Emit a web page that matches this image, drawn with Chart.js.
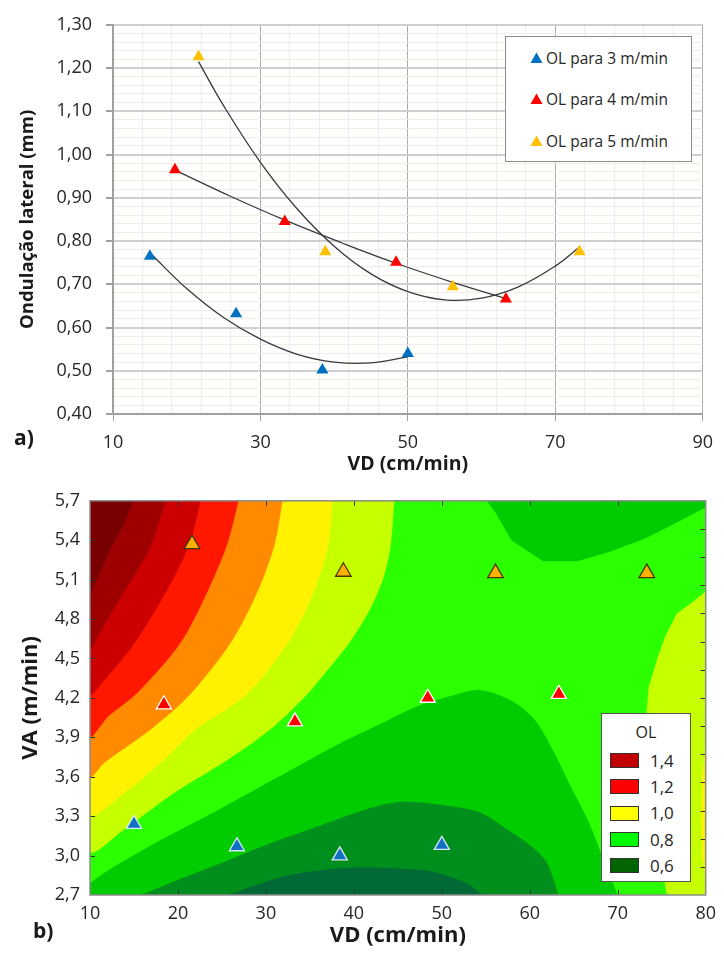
<!DOCTYPE html>
<html><head><meta charset="utf-8">
<script src="https://cdn.jsdelivr.net/npm/chart.js@4.4.1/dist/chart.umd.min.js"></script>
<style>
html,body{margin:0;padding:0;background:#fff;}
body{width:724px;height:959px;position:relative;overflow:hidden;font-family:'Open Sans','DejaVu Sans',sans-serif;color:#262626;}
.wrap{position:absolute;left:0;width:724px;}
#w1{top:0;height:480px;}
#w2{top:480px;height:479px;}
.tag{position:absolute;font-weight:bold;font-size:21px;line-height:normal;color:#1a1a1a;}
#legA{position:absolute;left:505px;top:36px;width:185px;height:124px;border:1px solid #8c8c8c;background:#fff;}
#legA svg{position:absolute;left:24px;}
#legA span{position:absolute;left:40px;font-size:15.5px;line-height:22px;white-space:nowrap;}
#legB{position:absolute;left:601px;top:713px;width:88px;height:167px;border:1px solid #555;background:#fff;}
#legB .t{position:absolute;left:0;width:88px;text-align:center;top:7px;font-size:16px;line-height:22px;}
#legB .sw{position:absolute;left:8px;width:29px;height:15px;box-sizing:border-box;border:1px solid #333;}
#legB span{position:absolute;left:48px;font-size:17px;line-height:22px;}
</style>
</head>
<body>
<div class="wrap" id="w1"><canvas id="c1" width="724" height="480"></canvas></div>
<div class="wrap" id="w2"><canvas id="c2" width="724" height="479"></canvas></div>
<div class="tag" style="left:14px;top:423px;">a)</div>
<div class="tag" style="left:33px;top:916px;">b)</div>
<div id="legA"></div>
<div id="legB"></div>
<script>
// ---------------- DATA ----------------
const SERIES_LABELS = ['OL para 3 m/min', 'OL para 4 m/min', 'OL para 5 m/min'];
// VD (cm/min) of the experiments, per VA level
const VD_3 = [15.0, 26.7, 38.4, 50.0];
const VD_4 = [18.4, 33.3, 48.4, 63.3];
const VD_5 = [21.6, 38.8, 56.1, 73.3];
// OL (mm), chart a)
const OL_3 = [0.765, 0.632, 0.502, 0.540];
const OL_4 = [0.965, 0.845, 0.751, 0.666];
const OL_5 = [1.226, 0.775, 0.694, 0.775];
// VA (m/min), chart b)
const VA_3 = [3.24, 3.07, 3.00, 3.08];
const VA_4 = [4.15, 4.02, 4.20, 4.23];
const VA_5 = [5.37, 5.16, 5.15, 5.15];
// trend curves of chart a)
const TREND_3_VD = [15, 20, 25, 30, 35, 40, 45, 50];
const TREND_3_OL = [0.773, 0.690, 0.623, 0.573, 0.538, 0.520, 0.518, 0.532];
const TREND_4_VD = [18.4, 26, 33.5, 41, 48.5, 56, 63.3];
const TREND_4_OL = [0.964, 0.903, 0.847, 0.796, 0.748, 0.705, 0.667];
const TREND_5_VD = [21.6, 25, 30, 35, 40, 45, 50, 55, 60, 65, 70, 73.3];
const TREND_5_OL = [1.215, 1.113, 0.982, 0.874, 0.788, 0.724, 0.683, 0.664, 0.668, 0.694, 0.742, 0.786];
// axes
const A_VD_MIN = 10, A_VD_MAX = 90, A_VD_MAJOR = 20, A_VD_MINOR = 4;
const A_OL_MIN = 0.4, A_OL_MAX = 1.3, A_OL_MAJOR = 0.1, A_OL_MINOR = 0.02;
const B_VD_MIN = 10, B_VD_MAX = 80, B_VD_STEP = 10;
const B_VA_MIN = 2.7, B_VA_MAX = 5.7, B_VA_STEP = 0.3;
// contour regions of chart b): [VD, VA] outlines
const REGION_BASE   = [[10,2.7],[10,5.7],[80,5.7],[80,2.7]];
const REGION_GT_080 = [[44.6,5.7],[44.2,5.37],[43.4,5.12],[41.8,4.87],[39.5,4.62],[36.5,4.37],[34.6,4.22],[30.5,3.96],[25.2,3.71],[19.2,3.46],[13.9,3.20],[10,3.04],[10,5.7]];
const REGION_GT_090 = [[37.6,5.7],[37.1,5.37],[35.4,5.0],[32.5,4.62],[27.7,4.22],[22.0,3.96],[18.1,3.71],[13.6,3.46],[10,3.32],[10,5.7]];
const REGION_GT_100 = [[31.9,5.7],[31.0,5.37],[29.0,5.0],[26.0,4.62],[21.3,4.22],[16.9,3.96],[11.7,3.71],[10,3.60],[10,5.7]];
const REGION_GT_110 = [[26.9,5.7],[25.6,5.37],[23.3,5.0],[20.3,4.62],[15.4,4.24],[12.1,4.06],[10,3.91],[10,5.7]];
const REGION_GT_120 = [[22.6,5.7],[21.3,5.37],[18.6,5.0],[15.1,4.62],[11.7,4.34],[10,4.23],[10,5.7]];
const REGION_GT_130 = [[18.6,5.7],[17.0,5.37],[15.5,5.18],[13.8,5.0],[11.5,4.74],[10,4.58],[10,5.7]];
const REGION_GT_140 = [[14.9,5.7],[13.9,5.53],[12.6,5.37],[10.9,5.12],[10,5.0],[10,5.7]];
const REGION_GT_080_R = [[73.2,3.7],[73.2,4.03],[73.5,4.28],[74.5,4.5],[75.4,4.67],[76.7,4.84],[78.5,4.93],[80,5.01],[80,2.7],[75.6,2.7],[75.3,2.8],[74.5,3.0],[73.6,3.3],[73.2,3.7],[80,3.7]];
const REGION_GT_090_R = [[79.5,3.3],[79.6,3.6],[80,3.85],[80,2.8],[79.6,3.0],[79.5,3.3],[80,3.3]];
const REGION_LT_070 = [[10,2.7],[10,2.79],[17.0,3.08],[24.1,3.33],[30.9,3.58],[38.0,3.84],[43.3,4.01],[47.0,4.13],[50.8,4.21],[54.2,4.26],[57.9,4.18],[60.6,4.03],[62.8,3.78],[64.7,3.52],[66.6,3.27],[68.1,3.02],[70.0,2.7]];
const REGION_LT_060 = [[15.8,2.7],[20.5,2.83],[25.2,2.95],[30.0,3.08],[35.0,3.20],[41.8,3.36],[45.5,3.41],[50.6,3.38],[54.3,3.33],[57.4,3.20],[60.0,3.08],[61.9,2.95],[63.3,2.7]];
const REGION_LT_050 = [[25.7,2.7],[32.0,2.84],[37.6,2.90],[41.4,2.91],[45.5,2.90],[48.7,2.88],[52.5,2.80],[54.7,2.7]];
const REGION_LT_070_T = [[55.1,5.7],[56.2,5.6],[57.9,5.4],[61.5,5.24],[65.4,5.24],[69.0,5.31],[73.0,5.41],[76.9,5.54],[80,5.65],[80,5.7]];
const LEGEND_B_LABELS = ['1,4', '1,2', '1,0', '0,8', '0,6'];
const LEGEND_B_COLORS = ['#C00000', '#FF0000', '#FFFF00', '#00FF00', '#006400'];

// ---------------- HELPERS ----------------
const FONT = "'Open Sans','DejaVu Sans',sans-serif";
const TXT = '#262626';
const fmt = (v, d) => v.toFixed(d).replace('.', ',');
const near = (a, b) => Math.abs(a - b) < 1e-6;
const isMajorVD = v => { const q = (v - A_VD_MIN) / A_VD_MAJOR; return near(q, Math.round(q)); };
const isMajorOL = v => { const q = v / A_OL_MAJOR; return near(q, Math.round(q)); };
const toXY = (xs, ys) => xs.map((x, i) => ({x, y: ys[i]}));
const toPts = arr => arr.map(([x, y]) => ({x, y}));
const COLORS = ['#0070C0', '#FF0000', '#FFC000'];

// ---------------- CHART a) ----------------
const markerA = (label, data, color) => ({label, data, pointStyle: 'triangle', pointRadius: 7, backgroundColor: color, borderWidth: 0, order: 0});
const trend = (data) => ({label: 'trend', data, showLine: true, pointRadius: 0, borderColor: '#3a3a3a', borderWidth: 1.3, tension: 0.4, fill: false, order: 1});

new Chart(document.getElementById('c1'), {
  type: 'scatter',
  data: {datasets: [
    markerA(SERIES_LABELS[0], toXY(VD_3, OL_3), COLORS[0]),
    markerA(SERIES_LABELS[1], toXY(VD_4, OL_4), COLORS[1]),
    markerA(SERIES_LABELS[2], toXY(VD_5, OL_5), COLORS[2]),
    trend(toXY(TREND_3_VD, TREND_3_OL)),
    trend(toXY(TREND_4_VD, TREND_4_OL)),
    trend(toXY(TREND_5_VD, TREND_5_OL))
  ]},
  options: {
    responsive: false, animation: false, events: [],
    layout: {padding: {top: 20, right: 13, left: 0, bottom: 0}, autoPadding: false},
    plugins: {legend: {display: false}, tooltip: {enabled: false}},
    scales: {
      x: {
        type: 'linear', min: A_VD_MIN, max: A_VD_MAX,
        afterFit: s => { s.height = 66; },
        ticks: {stepSize: A_VD_MINOR, autoSkip: false, maxRotation: 0, padding: 11, color: TXT,
                font: {family: FONT, size: 18}, callback: v => isMajorVD(v) ? String(Math.round(v)) : ''},
        grid: {color: c => isMajorVD(c.tick.value) ? '#ABABAB' : '#EEEEE4', lineWidth: 1,
               tickColor: c => isMajorVD(c.tick.value) ? '#A0A0A0' : 'rgba(0,0,0,0)', tickLength: 7, drawTicks: true},
        border: {display: true, color: '#A0A0A0', width: 2},
        title: {display: true, text: 'VD (cm/min)', color: '#1a1a1a', font: {family: FONT, size: 19.5, weight: 'bold'}, padding: {top: 0, bottom: 4}}
      },
      y: {
        type: 'linear', min: A_OL_MIN, max: A_OL_MAX,
        afterFit: s => { s.width = 113; },
        ticks: {stepSize: A_OL_MINOR, autoSkip: false, padding: 14, color: TXT,
                font: {family: FONT, size: 18}, callback: v => isMajorOL(v) ? fmt(v, 2) : ''},
        grid: {color: c => isMajorOL(c.tick.value) ? '#CFCFCF' : '#EEEEE4', lineWidth: c => isMajorOL(c.tick.value) ? 2 : 1,
               tickColor: c => isMajorOL(c.tick.value) ? '#A0A0A0' : 'rgba(0,0,0,0)', tickLength: 7, drawTicks: true},
        border: {display: true, color: '#A0A0A0', width: 2},
        title: {display: true, text: 'Ondulação lateral (mm)', color: '#1a1a1a', font: {family: FONT, size: 18.5, weight: 'bold'}, padding: {top: 17, bottom: 0}}
      }
    }
  }
});

// ---------------- CHART b) ----------------
let ord = 100;
const region = (pts, color, smooth) => ({label: 'region', data: toPts(pts), showLine: true, fill: 'shape', backgroundColor: color,
  borderColor: 'rgba(0,0,0,0)', borderWidth: 0, pointRadius: 0, tension: smooth ? 0.3 : 0, order: ord--});
const markerB = (label, data, color, border, r) => ({label, data, pointStyle: 'triangle', pointRadius: r, backgroundColor: color,
  borderColor: border, borderWidth: 1.3, order: 0});

const frameTicks = {
  id: 'frameTicks',
  afterDatasetsDraw(chart) {
    const {ctx, chartArea: a, scales: {x, y}} = chart;
    ctx.save();
    ctx.strokeStyle = '#333'; ctx.lineWidth = 1;
    ctx.beginPath();
    x.ticks.forEach(t => {
      if (t.value <= B_VD_MIN || t.value >= B_VD_MAX) return;
      const px = Math.round(x.getPixelForValue(t.value)) + 0.5;
      ctx.moveTo(px, a.top); ctx.lineTo(px, a.top + 5);
      ctx.moveTo(px, a.bottom); ctx.lineTo(px, a.bottom - 5);
    });
    y.ticks.forEach(t => {
      if (t.value <= B_VA_MIN + 1e-6 || t.value >= B_VA_MAX - 1e-6) return;
      const py = Math.round(y.getPixelForValue(t.value)) + 0.5;
      ctx.moveTo(a.left, py); ctx.lineTo(a.left + 5, py);
    });
    for (let k = 1; k < 14; k++) {
      const py = Math.round(y.getPixelForValue(B_VA_MIN + k * (B_VA_MAX - B_VA_MIN) / 14)) + 0.5;
      ctx.moveTo(a.right, py); ctx.lineTo(a.right - 5, py);
    }
    ctx.stroke();
    ctx.strokeStyle = '#8a8a8a'; ctx.lineWidth = 1.5;
    ctx.strokeRect(a.left, a.top, a.right - a.left, a.bottom - a.top);
    ctx.restore();
  }
};

new Chart(document.getElementById('c2'), {
  type: 'scatter',
  data: {datasets: [
    region(REGION_BASE, '#2BFF00', false),
    region(REGION_GT_080, '#C6FF00', true),
    region(REGION_GT_090, '#FFF200', true),
    region(REGION_GT_100, '#FF8A00', true),
    region(REGION_GT_110, '#FF1800', true),
    region(REGION_GT_120, '#CC0000', true),
    region(REGION_GT_130, '#9E0000', true),
    region(REGION_GT_140, '#780000', true),
    region(REGION_GT_080_R, '#C6FF00', false),
    region(REGION_GT_090_R, '#FFF200', false),
    region(REGION_LT_070, '#00CC00', true),
    region(REGION_LT_060, '#008F1C', true),
    region(REGION_LT_050, '#006936', true),
    region(REGION_LT_070_T, '#00CC00', false),
    markerB(SERIES_LABELS[0], toXY(VD_3, VA_3), '#1070C4', '#D8E8F6', 8.7),
    markerB(SERIES_LABELS[1], toXY(VD_4, VA_4), '#FF0000', '#FFFFFF', 8.7),
    markerB(SERIES_LABELS[2], toXY(VD_5, VA_5), '#FFB300', '#4A3500', 9)
  ]},
  options: {
    responsive: false, animation: false, events: [],
    elements: {line: {capBezierPoints: true}},
    layout: {padding: {top: 19, right: 13, left: 0, bottom: 0}, autoPadding: false},
    plugins: {legend: {display: false}, tooltip: {enabled: false}},
    scales: {
      x: {
        type: 'linear', min: B_VD_MIN, max: B_VD_MAX,
        afterFit: s => { s.height = 64; },
        ticks: {stepSize: B_VD_STEP, autoSkip: false, maxRotation: 0, padding: 8, color: TXT, font: {family: FONT, size: 18}},
        grid: {display: false, drawTicks: false},
        border: {display: false},
        title: {display: true, text: 'VD (cm/min)', color: '#1a1a1a', font: {family: FONT, size: 22, weight: 'bold'}, padding: {top: 0, bottom: 10}}
      },
      y: {
        type: 'linear', min: B_VA_MIN, max: B_VA_MAX,
        afterFit: s => { s.width = 90; },
        ticks: {stepSize: B_VA_STEP, autoSkip: false, padding: 10, color: TXT, font: {family: FONT, size: 18}, callback: v => fmt(v, 1)},
        grid: {display: false, drawTicks: false},
        border: {display: false},
        title: {display: true, text: 'VA (m/min)', color: '#1a1a1a', font: {family: FONT, size: 22, weight: 'bold'}, padding: {top: 18, bottom: 0}}
      }
    }
  },
  plugins: [frameTicks]
});

// ---------------- LEGENDS ----------------
const legA = document.getElementById('legA');
const rowA = [21, 62, 104];
SERIES_LABELS.forEach((lab, i) => {
  legA.insertAdjacentHTML('beforeend',
    `<svg width="13" height="12" style="top:${rowA[i] - 6}px"><polygon points="6.5,0.5 12.5,11 0.5,11" fill="${COLORS[i]}"/></svg>` +
    `<span style="top:${rowA[i] - 11}px">${lab}</span>`);
});
const legB = document.getElementById('legB');
legB.insertAdjacentHTML('beforeend', '<div class="t">OL</div>');
const rowB = [46.5, 72.7, 99.2, 125.5, 151.5];
LEGEND_B_LABELS.forEach((lab, i) => {
  legB.insertAdjacentHTML('beforeend',
    `<div class="sw" style="top:${rowB[i] - 7.5}px;background:${LEGEND_B_COLORS[i]}"></div>` +
    `<span style="top:${rowB[i] - 11}px">${lab}</span>`);
});
</script>
</body></html>
